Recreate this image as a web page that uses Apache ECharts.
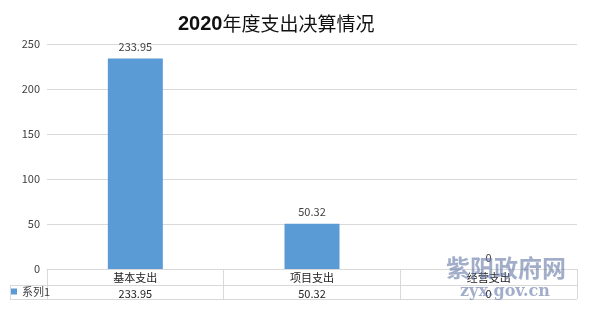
<!DOCTYPE html>
<html><head><meta charset="utf-8">
<script src="https://cdn.jsdelivr.net/npm/echarts@6/dist/echarts.min.js"></script>
<style>html,body{margin:0;padding:0;background:#fff}#c{width:597px;height:321px}</style>
</head><body><div id="c"></div>
<script>
const categories = ['基本支出', '项目支出', '经营支出'];
const values = [233.95, 50.32, 0];
const seriesName = '系列1';
const yTicks = [0, 50, 100, 150, 200, 250];

const chart = echarts.init(document.getElementById('c'));
const grey = '#d9d9d9';
const font = '"Noto Sans CJK SC", "Noto Sans", sans-serif';
chart.setOption({
  animation: false,
  backgroundColor: '#fff',
  title: {
    text: '{a|2020}{b|年度支出决算情况}',
    left: 173, top: 9,
    textStyle: { rich: {
      a: { fontSize: 20, fontWeight: 'bold', fontFamily: '"Liberation Sans", sans-serif', color: '#111' },
      b: { fontSize: 19, fontWeight: 'normal', fontFamily: '"Noto Sans CJK SC"', color: '#111' }
    } }
  },
  legend: {
    data: [seriesName], left: 11, top: 286, padding: 0,
    icon: 'rect', itemWidth: 6, itemHeight: 6, itemGap: 2,
    textStyle: { fontSize: 11, color: '#404040', fontFamily: font }
  },
  grid: { left: 47, right: 20, top: 44, bottom: 52 },
  xAxis: [{
    type: 'category', data: categories, gridIndex: 0,
    axisLine: { lineStyle: { color: grey } },
    axisTick: { show: true, length: 30, lineStyle: { color: grey } },
    axisLabel: { margin: 3, fontSize: 11, color: '#222', fontFamily: font }
  }, {
    type: 'category', data: categories, gridIndex: 0, position: 'bottom', offset: 16,
    axisLine: { show: false }, axisTick: { show: false },
    axisLabel: { margin: 3, fontSize: 11, color: '#222', fontFamily: font,
      formatter: (v, i) => String(values[i]) }
  }],
  yAxis: {
    type: 'value', min: yTicks[0], max: yTicks[yTicks.length - 1], interval: 50,
    axisLine: { show: false }, axisTick: { show: false },
    axisLabel: { fontSize: 11, color: '#404040', margin: 7, fontFamily: font },
    splitLine: { lineStyle: { color: grey } }
  },
  series: [{
    name: seriesName, type: 'bar', data: values, barWidth: 55,
    itemStyle: { color: '#5b9bd5' },
    label: { show: true, position: 'top', fontSize: 11, color: '#404040', distance: 6, fontFamily: font }
  }],
  graphic: [
    { type: 'line', shape: { x1: 10, y1: 285.5, x2: 577, y2: 285.5 }, style: { stroke: grey, lineWidth: 1 } },
    { type: 'line', shape: { x1: 10, y1: 299.5, x2: 577, y2: 299.5 }, style: { stroke: grey, lineWidth: 1 } },
    { type: 'line', shape: { x1: 10.5, y1: 285, x2: 10.5, y2: 300 }, style: { stroke: grey, lineWidth: 1 } },
    { type: 'text', left: 446, top: 256, z: 100,
      style: { text: '紫阳政府网', fontSize: 24, fontWeight: 'bold', fontFamily: '"Noto Sans CJK SC"', fill: 'rgba(100,120,165,0.6)' } },
    { type: 'text', left: 460, top: 284, z: 100,
      style: { text: 'zyx.gov.cn', fontSize: 16, fontWeight: 'bold', fontFamily: '"DejaVu Serif", serif', fill: 'rgba(100,120,165,0.6)' } }
  ]
});
</script></body></html>
